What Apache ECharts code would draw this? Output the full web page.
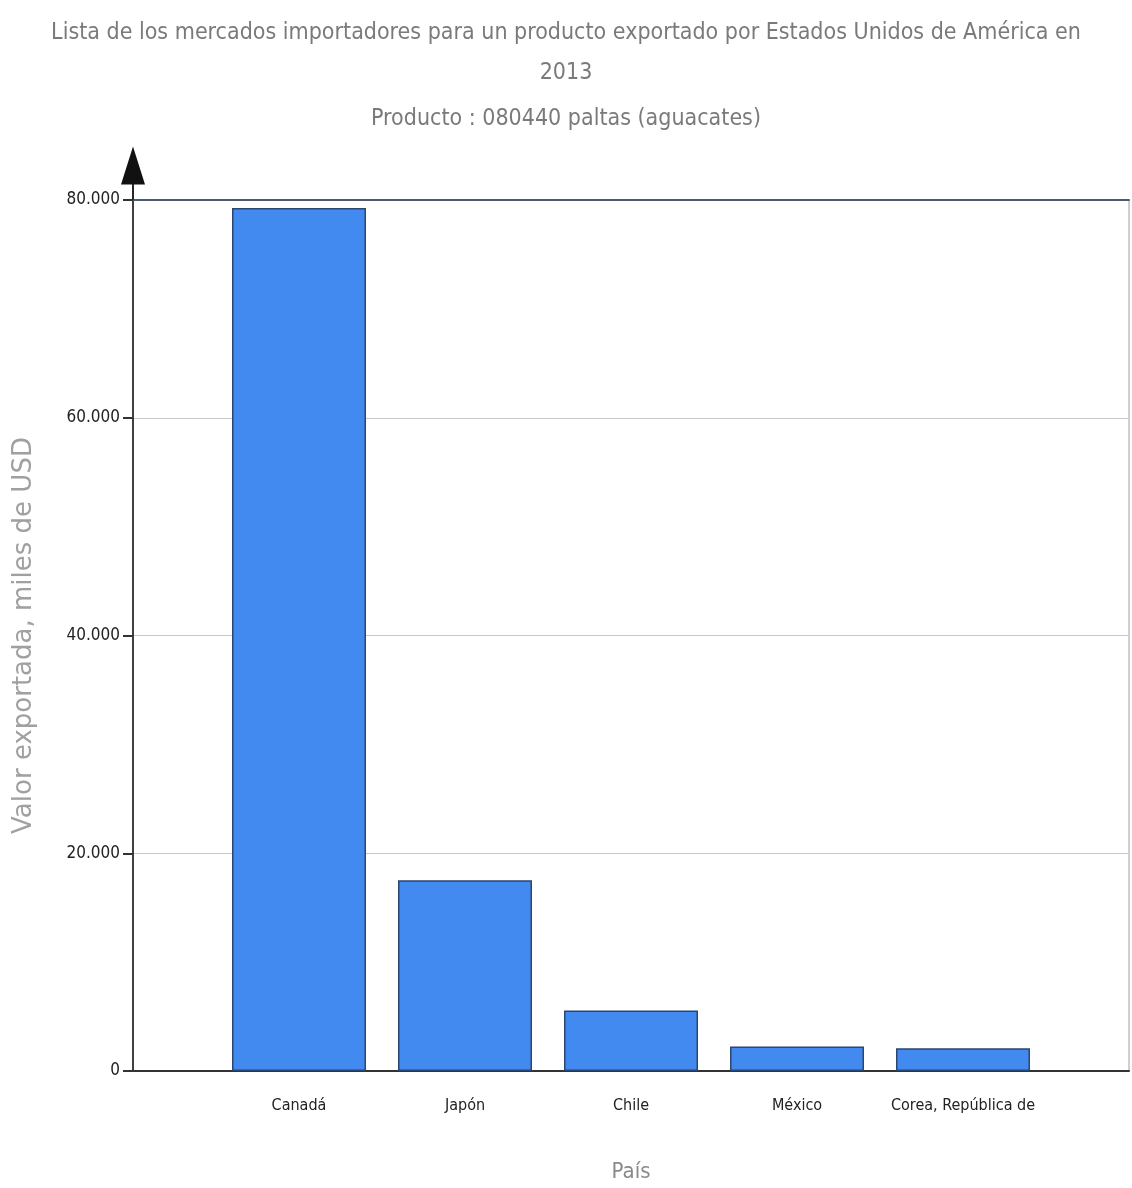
<!DOCTYPE html>
<html>
<head>
<meta charset="utf-8">
<script src="https://cdn.jsdelivr.net/npm/echarts@6/dist/echarts.min.js"></script>
<style>html,body{margin:0;padding:0;background:#fff}#c{width:1132px;height:1188px}</style>
</head>
<body>
<div id="c"></div>
<script>
const titleLines = ['Lista de los mercados importadores para un producto exportado por Estados Unidos de América en', '2013'];
const subtitle = 'Producto : 080440 paltas (aguacates)';
const categories = ['Canadá', 'Japón', 'Chile', 'México', 'Corea, República de'];
const values = [79270, 17530, 5560, 2260, 2080];
const yTicks = [0, 20000, 40000, 60000, 80000];
const yAxisTitle = 'Valor exportada, miles de USD';
const xAxisTitle = 'País';

const narrow = "'Liberation Sans Narrow', 'DejaVu Sans Condensed', sans-serif";
const chart = echarts.init(document.getElementById('c'));
const paddedCats = [''].concat(categories, ['']);
const paddedVals = [null].concat(values, [null]);
function fmt(v){ return v === 0 ? '0' : String(v).replace(/\B(?=(\d{3})+(?!\d))/g, '.'); }
const arrowPath = 'path://M12,0 L24,38 L12.9,38 L12.9,53 L11.1,53 L11.1,38 L0,38 Z';

chart.setOption({
  animation: false,
  backgroundColor: '#fff',
  title: {
    text: titleLines.join('\n'),
    subtext: subtitle,
    left: 'center',
    top: 8,
    itemGap: 6,
    textStyle: { fontFamily: narrow, fontSize: 23, fontWeight: 'normal', color: '#7a7a7a', lineHeight: 40 },
    subtextStyle: { fontFamily: narrow, fontSize: 23, color: '#7a7a7a', lineHeight: 40 }
  },
  grid: { left: 133, right: 2, top: 200, bottom: 115, show: true, borderColor: '#9aa0a8', borderWidth: 1, backgroundColor: 'transparent' },
  xAxis: [{
    type: 'category',
    data: paddedCats,
    boundaryGap: false,
    axisLine: { lineStyle: { color: '#333', width: 2 } },
    axisTick: { show: false },
    axisLabel: { fontFamily: narrow, fontSize: 16, color: '#222', margin: 27, interval: 0 },
    name: xAxisTitle,
    nameLocation: 'middle',
    nameGap: 90,
    nameTextStyle: { fontFamily: narrow, fontSize: 22, color: '#8a8a8a' }
  }, {
    type: 'category',
    data: paddedCats,
    position: 'top',
    boundaryGap: false,
    axisLine: { lineStyle: { color: '#4a5a70', width: 2 } },
    axisTick: { show: false },
    axisLabel: { show: false }
  }],
  yAxis: {
    type: 'value',
    min: yTicks[0],
    max: yTicks[yTicks.length - 1],
    interval: yTicks[1] - yTicks[0],
    axisLine: { show: true, lineStyle: { color: '#111', width: 1.5 }, symbol: ['none', arrowPath], symbolSize: [24, 53], symbolOffset: [0, 27] },
    axisTick: { show: true, length: 10, lineStyle: { color: '#333', width: 2 } },
    axisLabel: { fontFamily: narrow, fontSize: 17, color: '#222', margin: 13, formatter: fmt },
    splitLine: { lineStyle: { color: '#c8c8c8', width: 1 } },
    name: yAxisTitle,
    nameLocation: 'middle',
    nameGap: 96,
    nameRotate: 90,
    nameTextStyle: { fontFamily: "'DejaVu Sans', sans-serif", fontSize: 26, color: '#a0a0a0' }
  },
  series: [{
    type: 'bar',
    data: paddedVals,
    barWidth: 134,
    itemStyle: { color: '#428aef', borderColor: '#2b4670', borderWidth: 1.5 }
  }]
});
</script>
</body>
</html>
